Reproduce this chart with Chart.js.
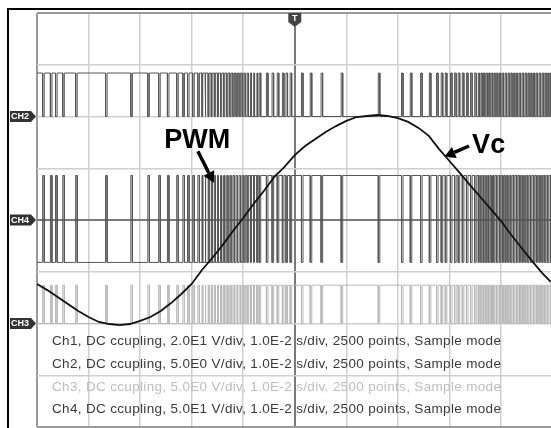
<!DOCTYPE html>
<html><head><meta charset="utf-8">
<script src="https://cdn.jsdelivr.net/npm/chart.js@4.4.1/dist/chart.umd.min.js"></script>
<style>html,body{margin:0;padding:0;background:#fff;overflow:hidden}canvas{display:block}</style>
</head><body>
<canvas id="c" width="551" height="428"></canvas>
<script>
// ---- data (time in ms, trigger at 0; 10 ms/div) ----
const xTicks = [-50, -40, -30, -20, -10, 0, 10, 20, 30, 40];
const yTicks = [-4, -3, -2, -1, 0, 1, 2, 3, 4];

// Ch1 : Vc (volts)
const vcTimes = [-50,-48,-46,-44,-42,-40,-38,-36,-34,-32,-30,-28,-26,-24,-22,-20,-18,-16,-14,-12,-10,-8,-6,-4,-2,0,2,4,6,8,10,12,14,16,18,20,22,24,26,28,30,32,34,36,38,40,42,44,46,48,49.7];
const vcVolts = [-24.7,-27.1,-29.8,-32.5,-35.2,-37.5,-39.4,-40.2,-40.6,-40.2,-39.0,-37.5,-35.2,-32.1,-28.6,-24.7,-19.3,-14.7,-9.7,-4.3,0.8,6.2,11.2,16.6,20.5,25.1,28.6,31.3,34.0,36.3,38.3,39.8,40.2,40.6,40.2,39.4,37.9,35.6,32.5,27.4,22.8,18.2,13.5,8.9,4.3,-0.4,-5.8,-10.8,-15.8,-20.5,-24.0];

// switching instants of the PWM (ms), first edge goes from low to high (Ch4 polarity)
const pwmEdges = [
 -48.9,-48.6, -47.4,-47.1, -46.4,-46.1, -45.0,-44.7, -42.5,-42.2, -36.7,-36.4,
 -31.8,-31.5, -28.5,-28.2, -26.4,-26.1, -24.7,-24.4, -22.9,-22.6, -21.7,-21.4,
 -20.8,-20.5, -19.8,-19.5, -18.8,-18.5,
 -18.0,-17.85, -17.4,-17.25, -16.8,-16.62, -16.2,-16.02, -15.6,-15.4, -15.0,-14.8,
 -14.4,-14.18, -13.8,-13.58, -13.2,-12.95, -12.6,-12.35, -12.0,-11.72, -11.4,-11.12,
 -10.8,-10.5, -10.2,-9.87, -9.6,-9.24, -9.0,-8.6, -8.4,-7.97, -7.8,-7.34,
 -7.2,-6.9, -6.6,-5.5, -5.2,-4.4, -4.1,-3.4, -3.1,-2.4, -2.1,-1.7, -1.4,-0.9,
 -0.6,1.3, 1.6,3.0, 3.3,5.1, 5.4,9.0, 9.3,16.2, 16.5,20.7, 21.0,22.4, 22.7,24.4,
 24.7,26.1, 26.4,27.5, 27.8,28.4, 28.7,29.2, 29.5,30.2, 30.5,31.0, 31.3,31.7,
 32.0,32.5, 32.8,33.3, 33.6,34.1, 34.4,34.9,
 35.2,35.6, 35.8,36.1, 36.35,36.6, 36.85,37.1, 37.35,37.6, 37.85,38.1, 38.35,38.6,
 38.85,39.15, 39.4,39.7, 39.95,40.25, 40.5,40.8, 41.05,41.35, 41.6,41.9, 42.15,42.45,
 42.7,43.0, 43.25,43.55, 43.8,44.1, 44.35,44.65, 44.9,45.2, 45.45,45.75, 46.0,46.3,
 46.55,46.85, 47.1,47.4, 47.65,47.95, 48.2,48.5, 48.75,49.05, 49.3,49.6
];
// [low level, high level] in volts for each channel
const ch4Levels = [-41, 43];
const ch2Levels = [4.2, 0];
const ch3Levels = [0, 3.7];

const legendLines = [
 'Ch1, DC ccupling, 2.0E1 V/div, 1.0E-2 s/div, 2500 points, Sample mode',
 'Ch2, DC ccupling, 5.0E0 V/div, 1.0E-2 s/div, 2500 points, Sample mode',
 'Ch3, DC ccupling, 5.0E0 V/div, 1.0E-2 s/div, 2500 points, Sample mode',
 'Ch4, DC ccupling, 5.0E1 V/div, 1.0E-2 s/div, 2500 points, Sample mode'
];
const voltsPerDiv = {ch1: 20, ch2: 5, ch3: 5, ch4: 50};
const chanPos = {ch1: 0, ch2: 2, ch3: -2, ch4: 0};
const chanLabels = [['CH2', 'ch2'], ['CH4', 'ch4'], ['CH3', 'ch3']];

// ---- build ----
const tStart = -50, tEnd = 49.7;
function steps(levels, ch) {
  const v = voltsPerDiv[ch], p = chanPos[ch];
  const pts = [];
  let s = 0;
  pts.push({x: tStart, y: p + levels[s] / v});
  for (const t of pwmEdges) {
    pts.push({x: t, y: p + levels[s] / v});
    s = 1 - s;
    pts.push({x: t, y: p + levels[s] / v});
  }
  pts.push({x: tEnd, y: p + levels[s] / v});
  return pts;
}
const vcData = vcTimes.map((t, i) => ({x: t, y: chanPos.ch1 + vcVolts[i] / voltsPerDiv.ch1}));

function arrow(ctx, x1, y1, x2, y2) {
  const a = Math.atan2(y2 - y1, x2 - x1), L = 11, W = 6;
  const bx = x2 - L * Math.cos(a), by = y2 - L * Math.sin(a);
  ctx.strokeStyle = '#000'; ctx.lineWidth = 3.5; ctx.lineCap = 'butt';
  ctx.beginPath(); ctx.moveTo(x1, y1); ctx.lineTo(bx, by); ctx.stroke();
  ctx.fillStyle = '#000';
  ctx.beginPath();
  ctx.moveTo(x2, y2);
  ctx.lineTo(bx + W * Math.sin(a), by - W * Math.cos(a));
  ctx.lineTo(bx - W * Math.sin(a), by + W * Math.cos(a));
  ctx.closePath(); ctx.fill();
}

const overlay = {
  id: 'overlay',
  afterDraw(chart) {
    const ctx = chart.ctx, xs = chart.scales.x, ys = chart.scales.y;
    ctx.save();
    // outer frame
    ctx.strokeStyle = '#000'; ctx.lineWidth = 2;
    ctx.beginPath(); ctx.moveTo(8, 428); ctx.lineTo(8, 9); ctx.lineTo(551, 9); ctx.stroke();
    // trigger marker
    const x0 = xs.getPixelForValue(0), top = chart.chartArea.top;
    ctx.fillStyle = '#444';
    ctx.beginPath();
    ctx.moveTo(x0 - 6.5, top); ctx.lineTo(x0 + 6.5, top); ctx.lineTo(x0 + 6.5, top + 9);
    ctx.lineTo(x0, top + 14); ctx.lineTo(x0 - 6.5, top + 9); ctx.closePath(); ctx.fill();
    ctx.fillStyle = '#fff'; ctx.font = 'bold 9px "Liberation Sans", Arial';
    ctx.textAlign = 'center'; ctx.textBaseline = 'middle';
    ctx.fillText('T', x0, top + 6);
    // channel labels
    for (const [name, ch] of chanLabels) {
      const y = ys.getPixelForValue(chanPos[ch]);
      ctx.fillStyle = '#333';
      ctx.beginPath();
      ctx.moveTo(10, y - 5.5); ctx.lineTo(31, y - 5.5); ctx.lineTo(36, y);
      ctx.lineTo(31, y + 5.5); ctx.lineTo(10, y + 5.5); ctx.closePath(); ctx.fill();
      ctx.fillStyle = '#fff'; ctx.font = 'bold 9px "Liberation Sans", Arial';
      ctx.textAlign = 'left'; ctx.textBaseline = 'middle';
      ctx.fillText(name, 11, y + 0.5);
    }
    // legend text
    ctx.font = '13.5px "Liberation Sans", Arial';
    if ('letterSpacing' in ctx) ctx.letterSpacing = '0.33px';
    ctx.textAlign = 'left'; ctx.textBaseline = 'alphabetic';
    const base = [345, 368, 391, 413];
    legendLines.forEach((s, i) => {
      ctx.fillStyle = i === 2 ? '#bdbdbd' : '#3a3a3a';
      ctx.fillText(s, 52, base[i]);
    });
    if ('letterSpacing' in ctx) ctx.letterSpacing = '0px';
    // annotations
    ctx.fillStyle = '#000'; ctx.font = 'bold 27px "Liberation Sans", Arial';
    ctx.fillText('PWM', xs.getPixelForValue(-25.3), ys.getPixelForValue(1.39));
    ctx.fillText('Vc', xs.getPixelForValue(34.4), ys.getPixelForValue(1.29));
    arrow(ctx, xs.getPixelForValue(-18.8), ys.getPixelForValue(1.33), xs.getPixelForValue(-15.7), ys.getPixelForValue(0.72));
    arrow(ctx, xs.getPixelForValue(33.8), ys.getPixelForValue(1.43), xs.getPixelForValue(29.0), ys.getPixelForValue(1.22));
    ctx.restore();
  }
};

function gridColor(c) {
  const v = c.tick.value;
  if (v === 0) return '#7a7a7a';
  if (v === -50 || v === 4 || v === -4) return '#9a9a9a';
  return '#cfcfcf';
}
function gridWidth(c) {
  const v = c.tick.value;
  if (v === 0 || v === -50 || v === 4 || v === -4) return 2;
  return 1.5;
}

new Chart(document.getElementById('c'), {
  type: 'line',
  data: {
    datasets: [
      {label: 'Vc', data: vcData, borderColor: '#111', borderWidth: 1.8},
      {label: 'Ch4', data: steps(ch4Levels, 'ch4'), borderColor: '#555', borderWidth: 1},
      {label: 'Ch2', data: steps(ch2Levels, 'ch2'), borderColor: '#555', borderWidth: 1},
      {label: 'Ch3', data: steps(ch3Levels, 'ch3'), borderColor: '#b8b8b8', borderWidth: 1}
    ]
  },
  options: {
    responsive: false, animation: false, events: [],
    parsing: false,
    layout: {padding: {left: 37, top: 13, right: 0, bottom: 1}},
    elements: {point: {radius: 0}, line: {tension: 0, borderJoinStyle: 'miter'}},
    plugins: {legend: {display: false}, tooltip: {enabled: false}},
    scales: {
      x: {
        type: 'linear', min: tStart, max: tEnd,
        afterBuildTicks: s => { s.ticks = xTicks.map(v => ({value: v})); },
        ticks: {display: false},
        grid: {color: gridColor, lineWidth: gridWidth, drawTicks: false},
        border: {display: false}
      },
      y: {
        type: 'linear', min: -4, max: 4,
        afterBuildTicks: s => { s.ticks = yTicks.map(v => ({value: v})); },
        ticks: {display: false},
        grid: {color: gridColor, lineWidth: gridWidth, drawTicks: false},
        border: {display: false}
      }
    }
  },
  plugins: [overlay]
});
</script>
</body></html>
